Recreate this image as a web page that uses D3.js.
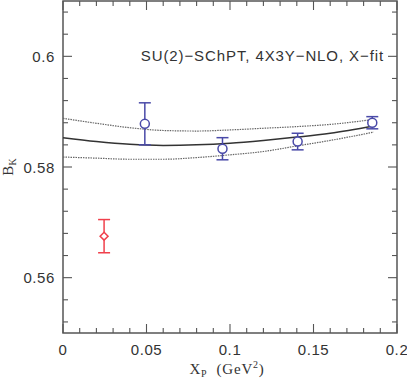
<!DOCTYPE html>
<html>
<head>
<meta charset="utf-8">
<script src="https://cdn.jsdelivr.net/npm/d3@7"></script>
<style>
  body { margin: 0; background: #fff; }
  svg { display: block; }
</style>
</head>
<body>
<div id="chart"></div>
<script>
// fit band: central curve and error band
const fitX     = [0, 0.02, 0.04, 0.06, 0.08, 0.1, 0.12, 0.14, 0.16, 0.186];
const fitMid   = [0.5853, 0.5846, 0.5841, 0.5839, 0.5840, 0.5843, 0.5848, 0.5854, 0.5861, 0.5874];
const fitUpper = [0.5888, 0.5879, 0.5871, 0.5866, 0.5865, 0.5867, 0.5870, 0.5873, 0.5877, 0.5886];
const fitLower = [0.5818, 0.5816, 0.5814, 0.5814, 0.5817, 0.5822, 0.5828, 0.5838, 0.5848, 0.5863];

// lattice data (blue circles)
const dataX   = [0.049, 0.0955, 0.1405, 0.1852];
const dataY   = [0.5878, 0.5833, 0.5846, 0.5880];
const dataErr = [0.0038, 0.0020, 0.0015, 0.0011];

// extrapolated point (red diamond)
const physX = [0.0246];
const physY = [0.5675];
const physErr = [0.0030];

const xTicks = [0, 0.05, 0.1, 0.15, 0.2];
const yTicks = [0.56, 0.58, 0.6];

const width = 407, height = 381;
const margin = { top: 1, right: 10, bottom: 48, left: 63 };

const svg = d3.select("#chart").append("svg")
  .attr("width", width)
  .attr("height", height);

const x = d3.scaleLinear().domain([0, 0.2]).range([margin.left, width - margin.right]);
const y = d3.scaleLinear().domain([0.55, 0.61]).range([height - margin.bottom, margin.top]);

const frameColor = "#555";
const blue = "#4a4aa8";
const red = "#f0404c";

// frame
svg.append("rect")
  .attr("x", x(0))
  .attr("y", y(0.61))
  .attr("width", x(0.2) - x(0))
  .attr("height", y(0.55) - y(0.61))
  .style("fill", "none")
  .style("stroke", frameColor)
  .style("stroke-width", 1.5);

// ticks (inward, on all four sides)
const xMinor = d3.range(0, 0.2001, 0.01);
const yMinor = d3.range(0.552, 0.6101, 0.004);
const ticks = svg.append("g").style("stroke", frameColor).style("stroke-width", 1.1);

xMinor.forEach(v => {
  const major = xTicks.some(t => Math.abs(t - v) < 1e-6);
  const len = major ? 9 : 5;
  ticks.append("line").attr("x1", x(v)).attr("x2", x(v))
    .attr("y1", y(0.55)).attr("y2", y(0.55) - len);
  ticks.append("line").attr("x1", x(v)).attr("x2", x(v))
    .attr("y1", y(0.61)).attr("y2", y(0.61) + len);
});
yMinor.forEach(v => {
  const major = yTicks.some(t => Math.abs(t - v) < 1e-6);
  const len = major ? 9 : 5;
  ticks.append("line").attr("y1", y(v)).attr("y2", y(v))
    .attr("x1", x(0)).attr("x2", x(0) + len);
  ticks.append("line").attr("y1", y(v)).attr("y2", y(v))
    .attr("x1", x(0.2)).attr("x2", x(0.2) - len);
});

// tick labels
const tickFont = "'Liberation Sans', Arial, sans-serif";
svg.selectAll(".xlab").data(xTicks).enter().append("text")
  .attr("x", d => x(d))
  .attr("y", y(0.55) + 22)
  .attr("text-anchor", "middle")
  .style("font-family", tickFont)
  .style("font-size", "15px")
  .style("letter-spacing", "0.6px")
  .style("fill", "#333")
  .text(d => d3.format("")(d));

svg.selectAll(".ylab").data(yTicks).enter().append("text")
  .attr("x", x(0) - 8)
  .attr("y", d => y(d) + 5.5)
  .attr("text-anchor", "end")
  .style("font-family", tickFont)
  .style("font-size", "15px")
  .style("letter-spacing", "0.6px")
  .style("fill", "#333")
  .text(d => d3.format("")(d));

// axis titles
const serif = "'Liberation Serif', 'Times New Roman', serif";
const xt = svg.append("text")
  .attr("x", (x(0) + x(0.2)) / 2 - 3)
  .attr("y", 374)
  .attr("text-anchor", "middle")
  .style("font-family", serif)
  .style("font-size", "15px")
  .style("letter-spacing", "0.8px")
  .style("fill", "#333");
xt.append("tspan").text("X");
xt.append("tspan").attr("dy", 3).style("font-size", "10px").text("P");
xt.append("tspan").attr("dy", -3).text("\u00a0 (GeV");
xt.append("tspan").attr("dy", -6).style("font-size", "10px").text("2");
xt.append("tspan").attr("dy", 6).text(")");

const yt = svg.append("text")
  .attr("transform", `translate(13, ${y(0.58)}) rotate(-90)`)
  .attr("text-anchor", "middle")
  .style("font-family", serif)
  .style("font-size", "15px")
  .style("fill", "#333");
yt.append("tspan").text("B");
yt.append("tspan").attr("dy", 3).style("font-size", "10px").text("K");

// annotation
svg.append("text")
  .attr("x", 384)
  .attr("y", 61)
  .attr("text-anchor", "end")
  .style("font-family", tickFont)
  .style("font-size", "15px")
  .style("letter-spacing", "0.9px")
  .style("fill", "#333")
  .text("SU(2)\u2212SChPT, 4X3Y\u2212NLO, X\u2212fit");

// fit curves
const line = d3.line().x(d => x(d[0])).y(d => y(d[1])).curve(d3.curveMonotoneX);
svg.append("path")
  .datum(fitX.map((v, i) => [v, fitMid[i]]))
  .attr("d", line)
  .style("fill", "none").style("stroke", "#333").style("stroke-width", 1.5);
[fitUpper, fitLower].forEach(arr => {
  svg.append("path")
    .datum(fitX.map((v, i) => [v, arr[i]]))
    .attr("d", line)
    .style("fill", "none").style("stroke", "#666").style("stroke-width", 1.2)
    .style("stroke-dasharray", "1.5,1");
});

// error bars helper
function errorBars(xs, ys, es, color) {
  const g = svg.append("g").style("stroke", color).style("stroke-width", 1.5).style("fill", "none");
  xs.forEach((v, i) => {
    const cx = x(v);
    const yTop = y(ys[i] + es[i]);
    const yBot = y(ys[i] - es[i]);
    g.append("line").attr("x1", cx).attr("x2", cx).attr("y1", yTop).attr("y2", yBot);
    g.append("line").attr("x1", cx - 6).attr("x2", cx + 6).attr("y1", yTop).attr("y2", yTop);
    g.append("line").attr("x1", cx - 6).attr("x2", cx + 6).attr("y1", yBot).attr("y2", yBot);
  });
  return g;
}

const gb = errorBars(dataX, dataY, dataErr, blue);
dataX.forEach((v, i) => {
  gb.append("circle").attr("cx", x(v)).attr("cy", y(dataY[i])).attr("r", 4.5)
    .style("fill", "#fff");
});

const gr = errorBars(physX, physY, physErr, red);
physX.forEach((v, i) => {
  gr.append("path")
    .attr("d", d3.symbol().type(d3.symbolDiamond2).size(40)())
    .attr("transform", `translate(${x(v)},${y(physY[i])})`)
    .style("fill", "#fff");
});
</script>
</body>
</html>
